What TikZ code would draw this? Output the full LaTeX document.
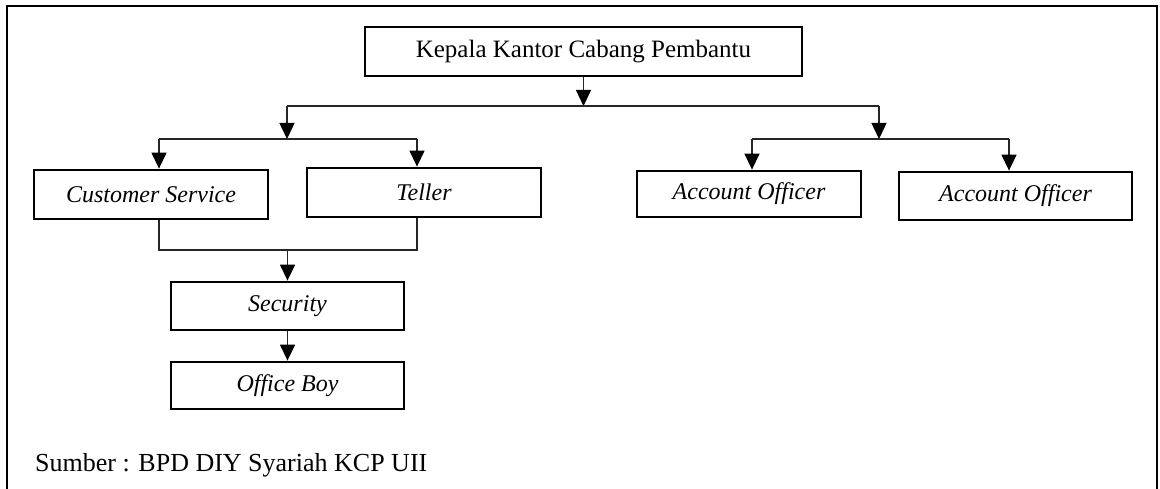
\documentclass[tikz,border=0pt]{standalone}
\usepackage{fontspec}
\setmainfont{Liberation Serif}
\usepackage{tikz}
\usetikzlibrary{calc,arrows.meta}

\begin{document}
\begin{tikzpicture}[x=1pt,y=-1pt,
    kotak/.style={draw,line width=2.8pt,inner sep=0pt,minimum height=48pt,font=\fontsize{24}{28}\selectfont\itshape},
    garis/.style={line width=1.4pt,draw=black!85},
    panah/.style={garis,-{Triangle[width=15pt,length=16pt,color=black]}}]
\useasboundingbox (0,0) rectangle (1160,489);
\clip (0,0) rectangle (1160,489);
\draw[line width=2.2pt] (7,489)--(7,6)--(1157,6)--(1157,489);
\node[kotak,minimum width=437pt,minimum height=49pt,font=\fontsize{25}{30}\selectfont] (kepala) at (583.5,51.5) {Kepala Kantor Cabang Pembantu};
\node[kotak,minimum width=234pt,minimum height=49pt] (cs) at (151,194.5) {Customer Service};
\node[kotak,minimum width=234pt,minimum height=49pt] (teller) at (424,192.5) {Teller};
\node[kotak,minimum width=224pt,minimum height=46pt] (ao1) at (749,194) {Account Officer};
\node[kotak,minimum width=233pt] (ao2) at (1015.5,196) {Account Officer};
\node[kotak,minimum width=233pt] (security) at (287.5,306) {Security};
\node[kotak,minimum width=233pt,minimum height=47pt] (oboy) at (287.5,385.5) {Office Boy};
\node[anchor=base west,inner sep=0pt,font=\fontsize{26}{30}\selectfont] (sumber) at (35,471) {Sumber : BPD DIY Syariah KCP UII};
\coordinate (bl) at (287,106); \coordinate (br) at (879,106);
\coordinate (kl) at (159,139); \coordinate (kr) at (417,139);
\coordinate (al) at (752,139); \coordinate (ar) at (1009,139);
\coordinate (gl) at (159,250); \coordinate (gr) at (417,250);
\draw[panah] (kepala.south)--(kepala.south |- bl);
\draw[garis] (bl)--(br);
\draw[panah] (bl)--(bl |- kl);
\draw[panah] (br)--(br |- al);
\draw[garis] (kl)--(kr);
\draw[garis] (al)--(ar);
\draw[panah] (kl)--(kl |- cs.north);
\draw[panah] (kr)--(kr |- teller.north);
\draw[panah] (al)--(al |- ao1.north);
\draw[panah] (ar)--(ar |- ao2.north);
\draw[garis] (gl |- cs.south)--(gl)--(gr)--(gr |- teller.south);
\draw[panah] (security.north |- gl)--(security.north);
\draw[panah] (security)--(oboy);
\end{tikzpicture}
\end{document}
